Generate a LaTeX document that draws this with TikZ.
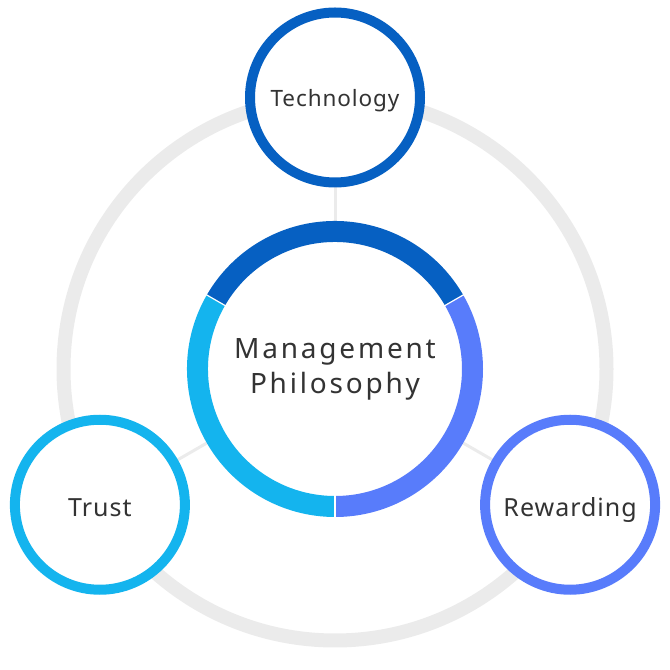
\documentclass[tikz,border=0pt]{standalone}
\usepackage{fontspec}
\setmainfont{Noto Sans}
\newfontfamily\centerfont[LetterSpace=10]{Noto Sans}
\newfontfamily\smallfont[LetterSpace=4]{Noto Sans}
\usetikzlibrary{backgrounds}
\definecolor{dblue}{HTML}{0660C2}
\definecolor{cyanb}{HTML}{14B4EE}
\definecolor{peri}{HTML}{587CFB}
\definecolor{ringgrey}{HTML}{EBEBEB}
\definecolor{txt}{HTML}{333333}
\tikzset{
  small/.style={circle, minimum size=170pt, inner sep=0pt, line width=10pt, fill=white, text=txt, text depth=0pt},
  center/.style={circle, minimum size=296pt, inner sep=0pt, fill=white, text=txt, align=center,
    font=\centerfont\fontsize{28}{35}\selectfont},
  seg/.style={line width=21pt},
  link/.style={draw=ringgrey, line width=3pt},
}
\begin{document}
\begin{tikzpicture}[x=1pt,y=1pt]
\useasboundingbox (0,0) rectangle (670,670);
\coordinate (C) at (335,301);
\node[center] (mp) at (C) {Management\\Philosophy};
\node[small, draw=dblue, text height=19pt, font=\smallfont\fontsize{22.5}{27}\selectfont] (tech) at (335,572.5) {Technology};
\node[small, draw=cyanb, text height=23pt, font=\smallfont\fontsize{25}{30}\selectfont] (trust) at (99.9,165.25) {Trust};
\node[small, draw=peri, text height=23pt, font=\smallfont\fontsize{25}{30}\selectfont] (rew) at (570.1,165.25) {Rewarding};
\begin{scope}[on background layer]
  \draw[ringgrey, line width=14pt] (C) circle[radius=271.5pt];
  \draw[link] (mp) -- (tech);
  \draw[link] (mp) -- (trust);
  \draw[link] (mp) -- (rew);
\end{scope}
\draw[seg, dblue] ([shift={(30:137.5)}]mp.center) arc[start angle=30, end angle=150, radius=137.5];
\draw[seg, cyanb] ([shift={(150:137.5)}]mp.center) arc[start angle=150, end angle=270, radius=137.5];
\draw[seg, peri] ([shift={(270:137.5)}]mp.center) arc[start angle=270, end angle=390, radius=137.5];
\foreach \a in {30,150,270}
  \draw[white, line width=1.2pt] ([shift={(\a:126)}]mp.center) -- ([shift={(\a:149)}]mp.center);
\end{tikzpicture}
\end{document}
